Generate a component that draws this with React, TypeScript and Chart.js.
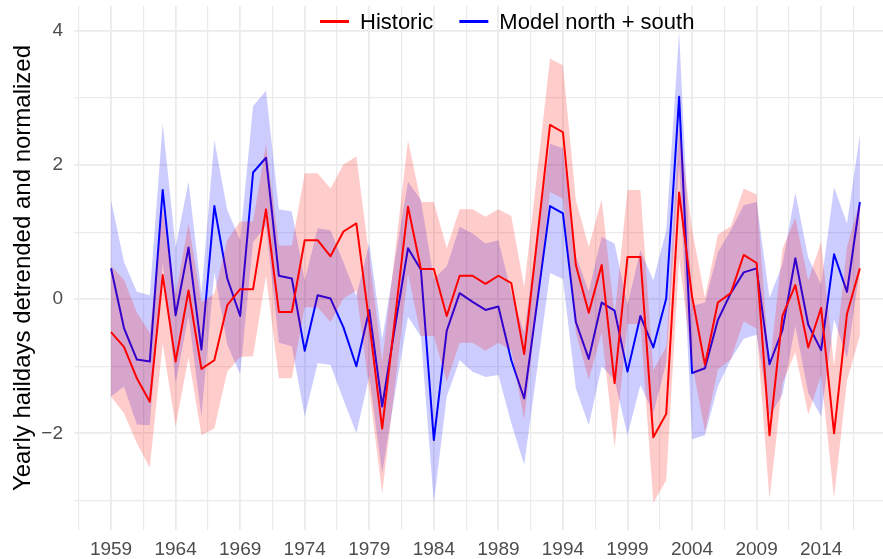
import { useEffect, useRef } from "react";
import { Chart, registerables } from "chart.js";

Chart.register(...registerables);

const FONT = '"Liberation Sans", Arial, Helvetica, sans-serif';

const years = [
  1959, 1960, 1961, 1962, 1963, 1964, 1965, 1966, 1967, 1968,
  1969, 1970, 1971, 1972, 1973, 1974, 1975, 1976, 1977, 1978,
  1979, 1980, 1981, 1982, 1983, 1984, 1985, 1986, 1987, 1988,
  1989, 1990, 1991, 1992, 1993, 1994, 1995, 1996, 1997, 1998,
  1999, 2000, 2001, 2002, 2003, 2004, 2005, 2006, 2007, 2008,
  2009, 2010, 2011, 2012, 2013, 2014, 2015, 2016, 2017,
];

const historic = [
  -0.49, -0.71, -1.18, -1.53, 0.36, -0.93, 0.13, -1.04, -0.91, -0.09,
  0.15, 0.15, 1.34, -0.19, -0.19, 0.88, 0.88, 0.64, 1.01, 1.13,
  -0.35, -1.93, -0.27, 1.38, 0.45, 0.45, -0.25, 0.35, 0.35, 0.23,
  0.35, 0.24, -0.82, 0.89, 2.6, 2.49, 0.51, -0.2, 0.51, -1.25,
  0.63, 0.63, -2.06, -1.71, 1.59, 0.04, -0.98, -0.05, 0.09, 0.66,
  0.54, -2.03, -0.25, 0.21, -0.72, -0.13, -2.0, -0.22, 0.46,
];

const historicUpper = [
  0.5, 0.29, -0.2, -0.5, 1.35, 0.07, 1.13, -0.04, 0.08, 0.88,
  1.16, 1.16, 2.32, 0.8, 0.8, 1.88, 1.88, 1.65, 2.01, 2.13,
  0.64, -0.93, 0.7, 2.37, 1.45, 1.45, 0.76, 1.34, 1.34, 1.23,
  1.34, 1.24, 0.18, 1.88, 3.59, 3.49, 1.48, 0.78, 1.49, -0.25,
  1.63, 1.63, -1.06, -0.71, 2.58, 1.04, 0.02, 0.96, 1.09, 1.65,
  1.56, -1.03, 0.75, 1.21, 0.28, 0.86, -1.0, 0.78, 1.46,
];

const historicLower = [
  -1.45, -1.7, -2.15, -2.51, -0.66, -1.9, -0.86, -2.03, -1.93, -1.08,
  -0.86, -0.85, 0.35, -1.18, -1.18, -0.12, -0.12, -0.34, 0.01, 0.13,
  -1.35, -2.9, -1.28, 0.38, -0.55, -0.55, -1.23, -0.65, -0.65, -0.77,
  -0.65, -0.76, -1.8, -0.1, 1.6, 1.5, -0.5, -1.2, -0.5, -2.22,
  -0.37, -0.37, -3.04, -2.7, 0.6, -0.95, -1.98, -1.05, -0.9, -0.33,
  -0.44, -2.99, -1.25, -0.79, -1.72, -1.13, -2.97, -1.22, -0.54,
];

const model = [
  0.46, -0.43, -0.9, -0.93, 1.63, -0.24, 0.77, -0.75, 1.39, 0.31,
  -0.25, 1.89, 2.11, 0.35, 0.31, -0.77, 0.06, 0.01, -0.42, -1.0,
  -0.16, -1.6, -0.4, 0.76, 0.44, -2.1, -0.47, 0.09, -0.04, -0.16,
  -0.11, -0.91, -1.48, -0.05, 1.39, 1.28, -0.34, -0.89, -0.05, -0.17,
  -1.08, -0.25, -0.72, 0.01, 3.02, -1.1, -1.03, -0.31, 0.09, 0.4,
  0.46, -0.97, -0.46, 0.61, -0.38, -0.76, 0.67, 0.11, 1.45,
];

const modelUpper = [
  1.48, 0.56, 0.11, 0.06, 2.62, 0.78, 1.75, 0.09, 2.37, 1.33,
  0.88, 2.88, 3.11, 1.34, 1.31, 0.28, 1.06, 1.03, 0.55, 0.05,
  0.84, -0.6, 0.6, 1.75, 1.48, 0.3, 0.49, 1.08, 0.98, 0.83,
  0.88, 0.1, -0.5, 0.95, 2.32, 2.25, 0.65, 0.12, 0.93, 0.83,
  -0.08, 0.73, 0.28, 1.03, 3.99, -0.1, -0.05, 0.7, 1.03, 1.4,
  1.45, 0.02, 0.52, 1.59, 0.62, 0.22, 1.67, 1.13, 2.45,
];

const modelLower = [
  -1.45, -1.3, -1.87, -1.88, 0.55, -1.25, -0.25, -1.75, 0.4, -0.68,
  -1.12, 0.85, 1.1, -0.65, -0.7, -1.75, -0.95, -0.98, -1.5, -2.0,
  -1.15, -2.6, -1.4, -0.26, -0.56, -3.04, -1.45, -0.91, -1.08, -1.16,
  -1.13, -1.85, -2.47, -1.05, 0.39, 0.3, -1.33, -1.88, -1.0, -1.2,
  -2.03, -1.28, -1.7, -0.95, 2.02, -2.09, -2.03, -1.3, -0.9, -0.59,
  -0.53, -1.75, -1.42, -0.4, -1.4, -1.75, -0.3, -0.88, 0.45,
];

const xMajorTicks = [1959, 1964, 1969, 1974, 1979, 1984, 1989, 1994, 1999, 2004, 2009, 2014];
const xMinorTicks = [1956.5, 1961.5, 1966.5, 1971.5, 1976.5, 1981.5, 1986.5, 1991.5, 1996.5, 2001.5, 2006.5, 2011.5, 2016.5];
const yMajorTicks = [-2, 0, 2, 4];
const yMinorTicks = [-3, -1, 1, 3];

const seriesLabels = ["Historic", "Model north + south"];
const lineColors = ["#ff0000", "#0000ff"];
const bandColors = ["rgba(255,0,0,0.2)", "rgba(0,0,255,0.2)"];

const toXY = (vals: number[]) => vals.map((v, i) => ({ x: years[i], y: v }));
const fmt = (v: number) => (v < 0 ? "\u2212" + Math.abs(v) : String(v));

const legendPlugin = {
  id: "topLegend",
  afterDraw(chart: any) {
    const ctx = chart.ctx as CanvasRenderingContext2D;
    ctx.save();
    ctx.font = `22px ${FONT}`;
    ctx.textBaseline = "alphabetic";
    ctx.textAlign = "left";
    let x = 320;
    seriesLabels.forEach((label, i) => {
      ctx.strokeStyle = lineColors[i];
      ctx.lineWidth = 3;
      ctx.lineCap = "butt";
      ctx.beginPath();
      ctx.moveTo(x, 21.5);
      ctx.lineTo(x + 29, 21.5);
      ctx.stroke();
      ctx.fillStyle = "#000000";
      ctx.fillText(label, x + 40, 28.5);
      x += 40 + ctx.measureText(label).width + 26;
    });
    ctx.restore();
  },
};

export default function App() {
  const ref = useRef<HTMLCanvasElement>(null);
  useEffect(() => {
    document.body.style.margin = "0";
    const chart = new Chart(ref.current as HTMLCanvasElement, {
      type: "line",
      data: {
        datasets: [
          {
            label: seriesLabels[0],
            data: toXY(historic),
            borderColor: lineColors[0],
            borderWidth: 2,
            pointRadius: 0,
            tension: 0,
            fill: false,
            order: 0,
            borderJoinStyle: "round",
          },
          {
            label: "hist upper",
            data: toXY(historicUpper),
            borderWidth: 0,
            pointRadius: 0,
            backgroundColor: bandColors[0],
            fill: 2,
            order: 1,
          },
          {
            label: "hist lower",
            data: toXY(historicLower),
            borderWidth: 0,
            pointRadius: 0,
            fill: false,
            order: 1,
          },
          {
            label: seriesLabels[1],
            data: toXY(model),
            borderColor: lineColors[1],
            borderWidth: 2,
            pointRadius: 0,
            tension: 0,
            fill: false,
            order: 2,
            borderJoinStyle: "round",
          },
          {
            label: "model upper",
            data: toXY(modelUpper),
            borderWidth: 0,
            pointRadius: 0,
            backgroundColor: bandColors[1],
            fill: 5,
            order: 3,
          },
          {
            label: "model lower",
            data: toXY(modelLower),
            borderWidth: 0,
            pointRadius: 0,
            fill: false,
            order: 3,
          },
        ],
      } as any,
      options: {
        responsive: false,
        animation: false,
        layout: { padding: { top: 6, left: 0, right: 0, bottom: 0 } },
        plugins: {
          legend: { display: false },
          tooltip: { enabled: false },
        },
        scales: {
          x: {
            type: "linear",
            min: 1956.13,
            max: 2018.79,
            afterBuildTicks: (s: any) => {
              s.ticks = [...xMinorTicks, ...xMajorTicks]
                .sort((a, b) => a - b)
                .map((v) => ({ value: v }));
            },
            afterFit: (s: any) => {
              s.height = 29;
              s.paddingLeft = 0;
              s.paddingRight = 0;
            },
            ticks: {
              autoSkip: false,
              maxRotation: 0,
              padding: 8,
              color: "#4d4d4d",
              font: { size: 19, family: FONT },
              callback: (v: any) => (xMajorTicks.includes(Number(v)) ? String(v) : ""),
            },
            grid: {
              color: "#ebebeb",
              drawTicks: false,
              lineWidth: (c: any) => (xMajorTicks.includes(c.tick?.value) ? 1.8 : 1.2),
            },
            border: { display: false },
          },
          y: {
            type: "linear",
            min: -3.442,
            max: 4.373,
            afterBuildTicks: (s: any) => {
              s.ticks = [...yMinorTicks, ...yMajorTicks]
                .sort((a, b) => a - b)
                .map((v) => ({ value: v }));
            },
            afterFit: (s: any) => {
              s.width = 74;
              s.paddingTop = 0;
              s.paddingBottom = 0;
            },
            ticks: {
              autoSkip: false,
              padding: 11,
              color: "#4d4d4d",
              font: { size: 19, family: FONT },
              callback: (v: any) => (yMajorTicks.includes(Number(v)) ? fmt(Number(v)) : ""),
            },
            grid: {
              color: "#ebebeb",
              drawTicks: false,
              lineWidth: (c: any) => (yMajorTicks.includes(c.tick?.value) ? 1.8 : 1.2),
            },
            border: { display: false },
            title: {
              display: true,
              text: "Yearly haildays detrended and normalized",
              color: "#000000",
              font: { size: 24, family: FONT },
              padding: { top: 9, bottom: 0 },
            },
          },
        },
      } as any,
      plugins: [legendPlugin],
    });
    return () => chart.destroy();
  }, []);

  return (
    <div style={{ position: "absolute", left: 0, top: 0, width: 883, height: 559, background: "#ffffff" }}>
      <canvas ref={ref} width={883} height={559} style={{ display: "block", width: 883, height: 559 }} />
    </div>
  );
}
